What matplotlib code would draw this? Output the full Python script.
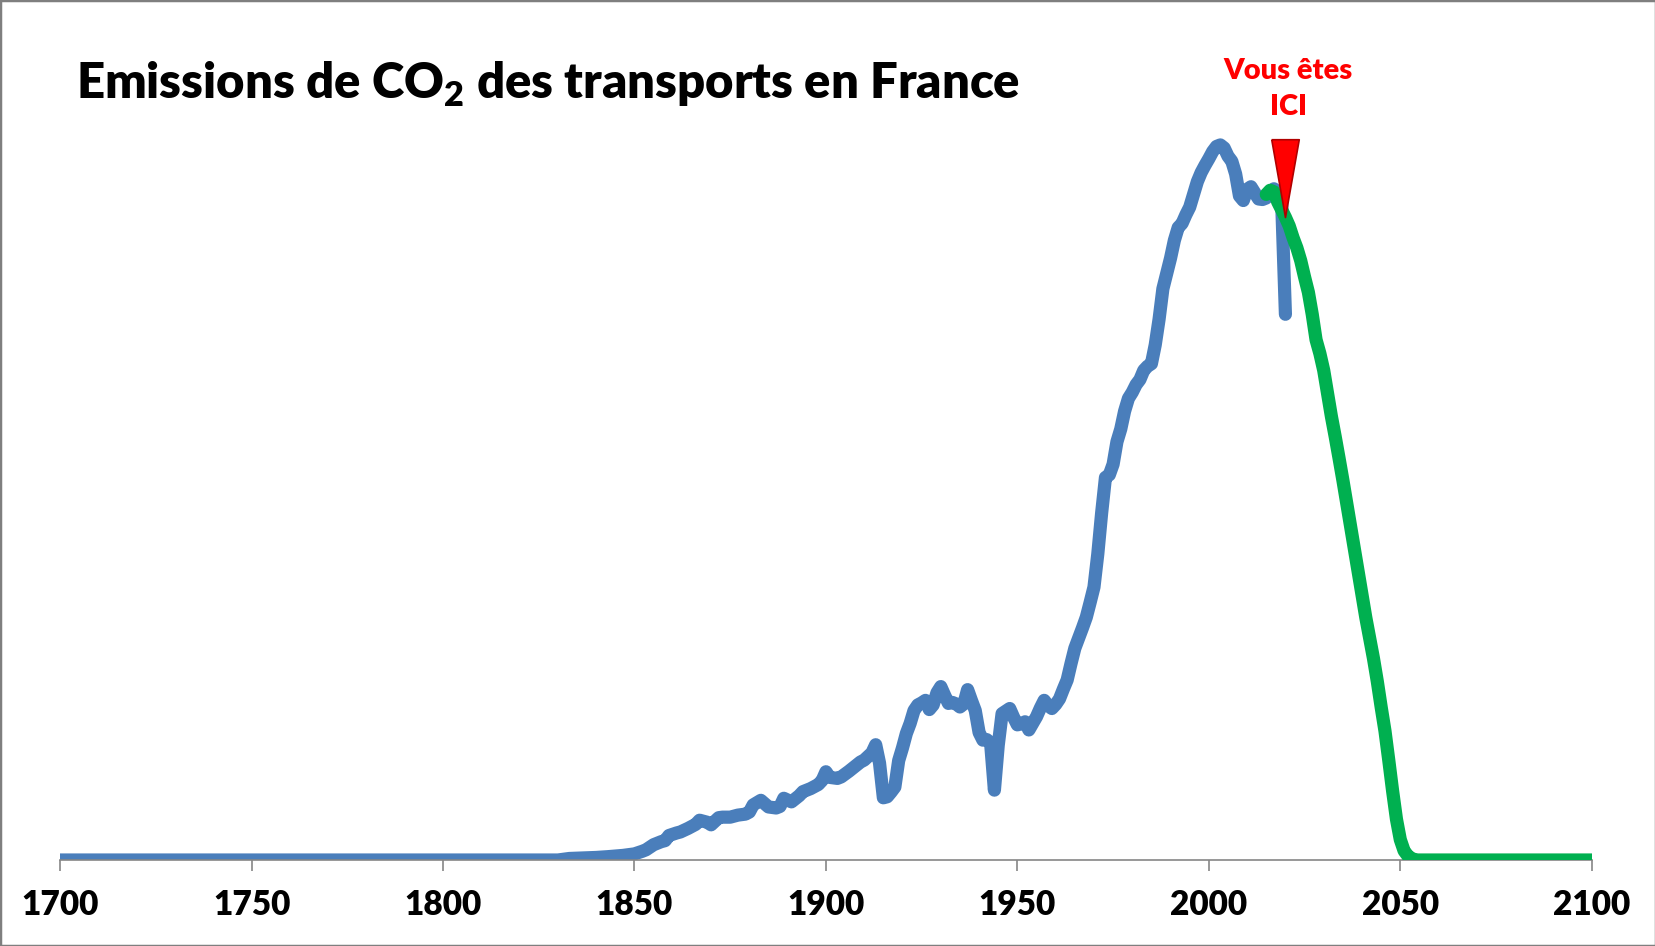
import matplotlib
matplotlib.use("Agg")
import matplotlib.pyplot as plt
import matplotlib.patches as mpatches

plt.rcParams["font.family"] = ["Lato", "DejaVu Sans"]
plt.rcParams["font.weight"] = "bold"

# historical emissions (Mt CO2)
blue_years = [1700, 1830, 1833, 1840, 1843, 1847, 1850, 1852, 1853, 1855,
              1857, 1858, 1859, 1861, 1862, 1864, 1866, 1867, 1869, 1870,
              1872, 1873, 1875, 1877, 1879, 1880, 1881, 1883, 1885, 1887,
              1888, 1889, 1891, 1893, 1894, 1896, 1898, 1899, 1900, 1901,
              1903, 1904, 1906, 1907, 1909, 1910, 1912, 1913] + list(range(1914, 2021))
blue_values = [0, 0, 0.3, 0.5, 0.65, 0.9, 1.2, 1.7, 2.0, 3.0,
               3.6, 3.8, 4.8, 5.3, 5.5, 6.2, 7.0, 7.8, 7.4, 6.9,
               8.3, 8.4, 8.4, 8.8, 9.0, 9.4, 10.8, 11.7, 10.4, 10.2,
               10.5, 12.1, 11.4, 12.6, 13.4, 14.0, 14.8, 15.6, 17.3, 16.2,
               16.0, 16.3, 17.4, 18.0, 19.2, 19.6, 21.0, 22.6,
               # 1914-1939
               19.0, 12.2, 12.4, 13.3, 14.3, 19.5, 22.0, 24.8, 26.8, 29.3,
               30.4, 30.8, 31.3, 29.5, 30.4, 32.8, 34.0, 32.3, 30.7, 30.9,
               30.6, 30.0, 30.6, 33.4, 31.3, 29.3,
               # 1940-1969
               25.0, 23.5, 23.6, 23.0, 13.7, 22.5, 28.7, 29.2, 29.7, 28.0,
               26.5, 26.7, 27.1, 25.5, 26.8, 28.1, 29.8, 31.3, 30.3, 29.7,
               30.5, 31.6, 33.5, 35.3, 38.5, 41.5, 43.5, 45.5, 47.6, 50.5,
               # 1970-1999
               53.5, 60.0, 68.0, 75.0, 75.5, 77.6, 82.0, 84.5, 88.0, 90.5,
               91.7, 93.2, 94.2, 96.0, 96.8, 97.3, 101.0, 106.0, 112.0, 115.0,
               118.0, 121.5, 124.0, 124.8, 126.5, 128.0, 130.5, 133.0, 134.8, 136.2,
               # 2000-2020
               137.5, 138.9, 139.9, 140.2, 139.6, 138.0, 137.0, 134.5, 130.2, 129.3,
               131.5, 132.0, 130.8, 129.6, 129.5, 129.8, 130.8, 131.6, 130.8, 129.5,
               107.0]

# trajectory to zero
green_years = list(range(2015, 2055)) + [2100]
green_values = [130.5, 131.3, 131.0, 129.0, 127.5, 126.0, 124.3, 122.0, 120.0, 117.5,
                114.3, 111.3, 107.0, 102.0, 99.3, 96.0, 91.5, 87.0, 83.0, 78.8,
                74.5, 70.0, 65.5, 61.0, 56.5, 52.0, 47.5, 43.5, 39.5, 35.0,
                30.0, 25.3, 19.5, 13.5, 8.0, 4.0, 1.8, 0.8, 0.3, 0.0,
                0.0]

here_year = 2020
here_value = 126.0
here_label = "Vous êtes\nICI"

x_ticks = [1700, 1750, 1800, 1850, 1900, 1950, 2000, 2050, 2100]
title = r"Emissions de CO$_\mathregular{2}$ des transports en France"

fig = plt.figure(figsize=(16.56, 9.46), dpi=100)
ax = fig.add_axes([0.0363, 0.0909, 0.9249, 0.888])

ax.plot(blue_years, blue_values, color="#4A7EBB", lw=9.5,
        solid_joinstyle="round", solid_capstyle="round", zorder=2)
ax.plot(green_years, green_values, color="#00B050", lw=9.5,
        solid_joinstyle="round", solid_capstyle="round", zorder=3)

tri = [(-0.177, 1.0), (0.177, 1.0), (0.0, 0.0), (-0.177, 1.0)]
ax.plot([here_year], [here_value], marker=tri, markersize=112,
        markerfacecolor="#FF0000", markeredgecolor="#B00000",
        markeredgewidth=1.2, linestyle="none", zorder=4)
ax.annotate(here_label, xy=(here_year, here_value), xytext=(2, 70),
            textcoords="offset points", ha="center", va="bottom",
            color="#FF0000", fontsize=21, fontweight="heavy",
            linespacing=1.5)

ax.set_xlim(1700, 2100)
ax.set_ylim(0, 164.7)
ax.set_xticks(x_ticks)
ax.set_yticks([])
for s in ["left", "top", "right"]:
    ax.spines[s].set_visible(False)
ax.spines["bottom"].set_color("#868686")
ax.spines["bottom"].set_linewidth(1.2)
ax.tick_params(axis="x", direction="out", length=8, width=1.2,
               color="#868686", pad=13, labelsize=24)
for lbl in ax.get_xticklabels():
    lbl.set_fontweight("heavy")

fig.text(0.0458, 1 - 99 / 946, title, fontsize=35.3, fontweight="heavy",
         ha="left", va="baseline", color="black")

fig.patches.append(mpatches.Rectangle((0, 0), 1, 1, transform=fig.transFigure,
                                      fill=False, edgecolor="#7F7F7F", lw=2.5))

fig.savefig("out.png", dpi=100)
